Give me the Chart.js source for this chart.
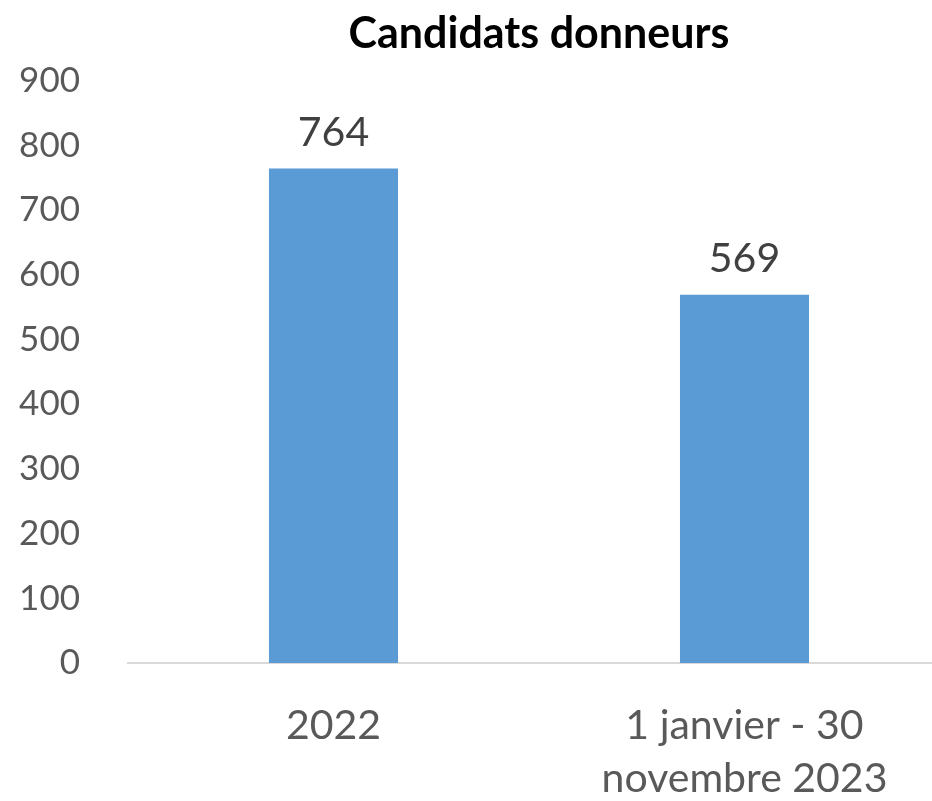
<!DOCTYPE html>
<html>
<head>
<meta charset="utf-8">
<script src="https://cdn.jsdelivr.net/npm/chart.js@4/dist/chart.umd.min.js"></script>
<style>
  html, body { margin: 0; padding: 0; background: #fff; overflow: hidden; }
  #wrap { width: 950px; height: 801px; }
</style>
</head>
<body>
<div id="wrap"><canvas id="chart" width="950" height="801"></canvas></div>
<script>
'use strict';

// data
const categories = ['2022', ['1 janvier - 30', 'novembre 2023']];
const candidats = [764, 569];
const yTicks = [0, 100, 200, 300, 400, 500, 600, 700, 800, 900];

const fontFamily = 'Lato, "Open Sans", sans-serif';

// draws the value above each bar
const valueLabels = {
  id: 'valueLabels',
  afterDatasetsDraw(chart) {
    const ctx = chart.ctx;
    const meta = chart.getDatasetMeta(0);
    ctx.save();
    ctx.font = '41px ' + fontFamily;
    ctx.fillStyle = '#404040';
    ctx.textAlign = 'center';
    ctx.textBaseline = 'alphabetic';
    meta.data.forEach((bar, i) => {
      ctx.fillText(String(candidats[i]), bar.x, bar.y - 23);
    });
    ctx.restore();
  }
};

let canvasElem = document.getElementById('chart').getContext('2d');

let myChart = new Chart(canvasElem, {
  type: 'bar',
  data: {
    labels: categories,
    datasets: [{
      label: 'Candidats donneurs',
      data: candidats,
      backgroundColor: '#5B9BD5',
      barPercentage: 1,
      categoryPercentage: 0.314
    }]
  },
  options: {
    responsive: false,
    animation: false,
    layout: { padding: { top: 0, left: 0, right: 0, bottom: 0 } },
    plugins: {
      legend: { display: false },
      tooltip: { enabled: false },
      title: {
        display: true,
        fullSize: false,
        text: 'Candidats donneurs',
        color: '#000',
        font: { family: fontFamily, size: 43, weight: 'bold' },
        padding: { top: 8, bottom: 21 }
      }
    },
    scales: {
      y: {
        min: 0,
        max: 900,
        afterBuildTicks(scale) {
          scale.ticks = yTicks.map(v => ({ value: v }));
        },
        afterFit(scale) { scale.width = 128; },
        grid: { display: false },
        border: { display: false },
        ticks: {
          color: '#595959',
          font: { family: fontFamily, size: 35 },
          padding: 40
        }
      },
      x: {
        afterFit(scale) { scale.height = 138; },
        grid: { display: false },
        border: { display: true, color: '#D9D9D9', width: 2 },
        ticks: {
          color: '#595959',
          font: { family: fontFamily, size: 41, lineHeight: 1.3 },
          padding: 28,
          maxRotation: 0
        }
      }
    }
  },
  plugins: [valueLabels]
});
</script>
</body>
</html>
